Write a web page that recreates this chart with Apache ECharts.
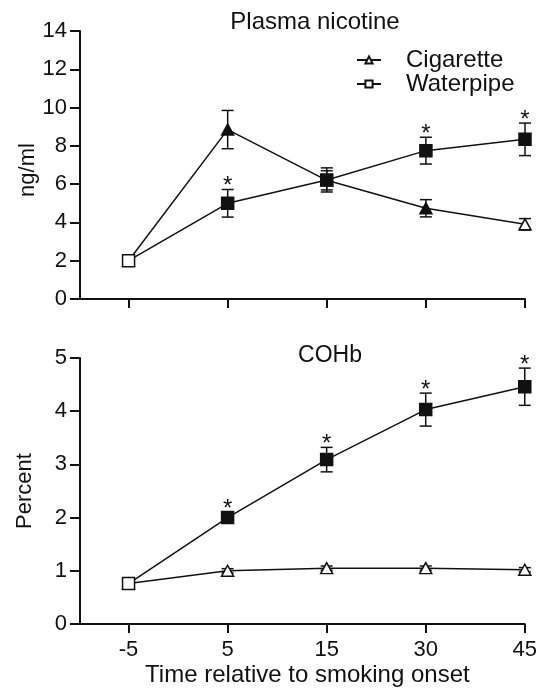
<!DOCTYPE html>
<html>
<head>
<meta charset="utf-8">
<script src="https://cdn.jsdelivr.net/npm/echarts@6/dist/echarts.min.js"></script>
<style>
html,body{margin:0;padding:0;background:#fff}
#main{width:540px;height:688px}
</style>
</head>
<body>
<div id="main"></div>
<script>
var times = ['-5', '5', '15', '30', '45'];

// plasma nicotine, ng/ml
var nicCig = [2.0, 8.85, 6.2, 4.74, 3.9];
var nicCigErr = [0, 1.0, 0.5, 0.45, 0.3];
var nicCigFill = [0, 1, 0, 1, 0];
var nicWp = [2.0, 5.0, 6.22, 7.75, 8.34];
var nicWpErr = [0, 0.72, 0.63, 0.7, 0.85];
var nicWpFill = [0, 1, 1, 1, 1];
var nicWpSig = [0, 1, 0, 1, 1];

// COHb, percent
var coCig = [0.76, 1.0, 1.05, 1.05, 1.02];
var coCigErr = [0, 0.04, 0.04, 0.04, 0.04];
var coCigFill = [0, 0, 0, 0, 0];
var coWp = [0.76, 2.0, 3.09, 4.03, 4.46];
var coWpErr = [0, 0.1, 0.23, 0.31, 0.35];
var coWpFill = [0, 1, 1, 1, 1];
var coWpSig = [0, 1, 1, 1, 1];

var FONT = 'Liberation Sans, Arial, sans-serif';
var INK = '#111';
var timeIdx = times.map(function (t, i) { return i; });

function lineSeries(name, symbol, vals, fills, gi) {
	return {
		type: 'line', name: name, xAxisIndex: gi, yAxisIndex: gi,
		symbol: symbol,
		symbolSize: symbol == 'triangle' ? [12, 11] : 12,
		showAllSymbol: true,
		animation: false,
		lineStyle: {color: INK, width: 1.5},
		itemStyle: {color: '#fff', borderColor: INK, borderWidth: 1.5},
		emphasis: {disabled: true},
		z: 3,
		data: vals.map(function (v, i) {
			var d = {value: [i, v]};
			if (fills[i]) d.itemStyle = {color: INK};
			return d;
		})
	};
}

// error bars + significance stars
function errSeries(vals, errs, sigs, gi) {
	return {
		type: 'custom', xAxisIndex: gi, yAxisIndex: gi, z: 2, silent: true,
		animation: false,
		data: vals.map(function (v, i) { return [i, v, errs[i], sigs ? sigs[i] : 0]; }),
		renderItem: function (params, api) {
			var x = api.value(0), y = api.value(1), e = api.value(2);
			var top = api.coord([x, y + e]);
			var bot = api.coord([x, y - e]);
			var st = {stroke: INK, lineWidth: 1.5};
			var kids = [];
			if (e > 0) {
				kids.push({type: 'line', shape: {x1: top[0], y1: top[1], x2: bot[0], y2: bot[1]}, style: st});
				kids.push({type: 'line', shape: {x1: top[0] - 6, y1: top[1], x2: top[0] + 6, y2: top[1]}, style: st});
				kids.push({type: 'line', shape: {x1: bot[0] - 6, y1: bot[1], x2: bot[0] + 6, y2: bot[1]}, style: st});
			}
			if (api.value(3)) {
				kids.push({type: 'text', style: {text: '*', x: top[0], y: top[1] - 3, align: 'center', verticalAlign: 'middle', fill: INK, font: '24px ' + FONT}});
			}
			return {type: 'group', children: kids};
		}
	};
}

function xAx(gi, showLabels) {
	return {
		type: 'value', gridIndex: gi, min: -0.49, max: 4,
		splitLine: {show: false},
		axisLine: {onZero: false, lineStyle: {color: INK, width: 2}},
		axisTick: {length: 9, customValues: timeIdx, lineStyle: {color: INK, width: 2}},
		axisLabel: {
			show: showLabels, margin: 15, color: INK, fontSize: 22, fontFamily: FONT,
			customValues: timeIdx,
			formatter: function (v) { return times[Math.round(v)]; }
		},
		name: showLabels ? 'Time relative to smoking onset' : '',
		nameLocation: 'middle', nameGap: 39, nameMoveOverlap: false,
		nameTextStyle: {color: INK, fontSize: 24, fontFamily: FONT, padding: [0, 0, 0, 10]}
	};
}

function yAx(gi, max, step, name, gap, pad) {
	return {
		type: 'value', gridIndex: gi, min: 0, max: max, interval: step,
		splitLine: {show: false},
		axisLine: {show: true, onZero: false, lineStyle: {color: INK, width: 2}},
		axisTick: {show: true, length: 10, lineStyle: {color: INK, width: 2}},
		axisLabel: {margin: 13, color: INK, fontSize: 22, fontFamily: FONT},
		name: name, nameLocation: 'middle', nameGap: gap, nameMoveOverlap: false,
		nameTextStyle: {color: INK, fontSize: 22, fontFamily: FONT, padding: pad}
	};
}

var chart = echarts.init(document.getElementById('main'));
chart.setOption({
	backgroundColor: '#fff',
	animation: false,
	title: [
		{text: 'Plasma nicotine', left: 315, top: 10, textAlign: 'center', padding: 0,
			textStyle: {color: INK, fontSize: 24, fontWeight: 'normal', fontFamily: FONT}},
		{text: 'COHb', left: 330, top: 344, textAlign: 'center', padding: 0,
			textStyle: {color: INK, fontSize: 23, fontWeight: 'normal', fontFamily: FONT}}
	],
	legend: {
		data: ['Cigarette', 'Waterpipe'],
		orient: 'vertical', left: 356, top: 48, padding: 0,
		itemWidth: 24, itemHeight: 9, itemGap: 0,
		textStyle: {color: INK, fontSize: 24, fontFamily: FONT, padding: [0, 0, 0, 20], lineHeight: 23}
	},
	grid: [
		{left: 80, right: 15, top: 31, height: 268},
		{left: 80, right: 15, top: 358, height: 268}
	],
	xAxis: [xAx(0, false), xAx(1, true)],
	yAxis: [yAx(0, 14, 2, 'ng/ml', 41, [0, 10, 0, 0]), yAx(1, 5, 1, 'Percent', 44, 0)],
	series: [
		errSeries(nicCig, nicCigErr, null, 0),
		errSeries(nicWp, nicWpErr, nicWpSig, 0),
		lineSeries('Cigarette', 'triangle', nicCig, nicCigFill, 0),
		lineSeries('Waterpipe', 'rect', nicWp, nicWpFill, 0),
		errSeries(coCig, coCigErr, null, 1),
		errSeries(coWp, coWpErr, coWpSig, 1),
		lineSeries('Cigarette', 'triangle', coCig, coCigFill, 1),
		lineSeries('Waterpipe', 'rect', coWp, coWpFill, 1)
	]
});
</script>
</body>
</html>
